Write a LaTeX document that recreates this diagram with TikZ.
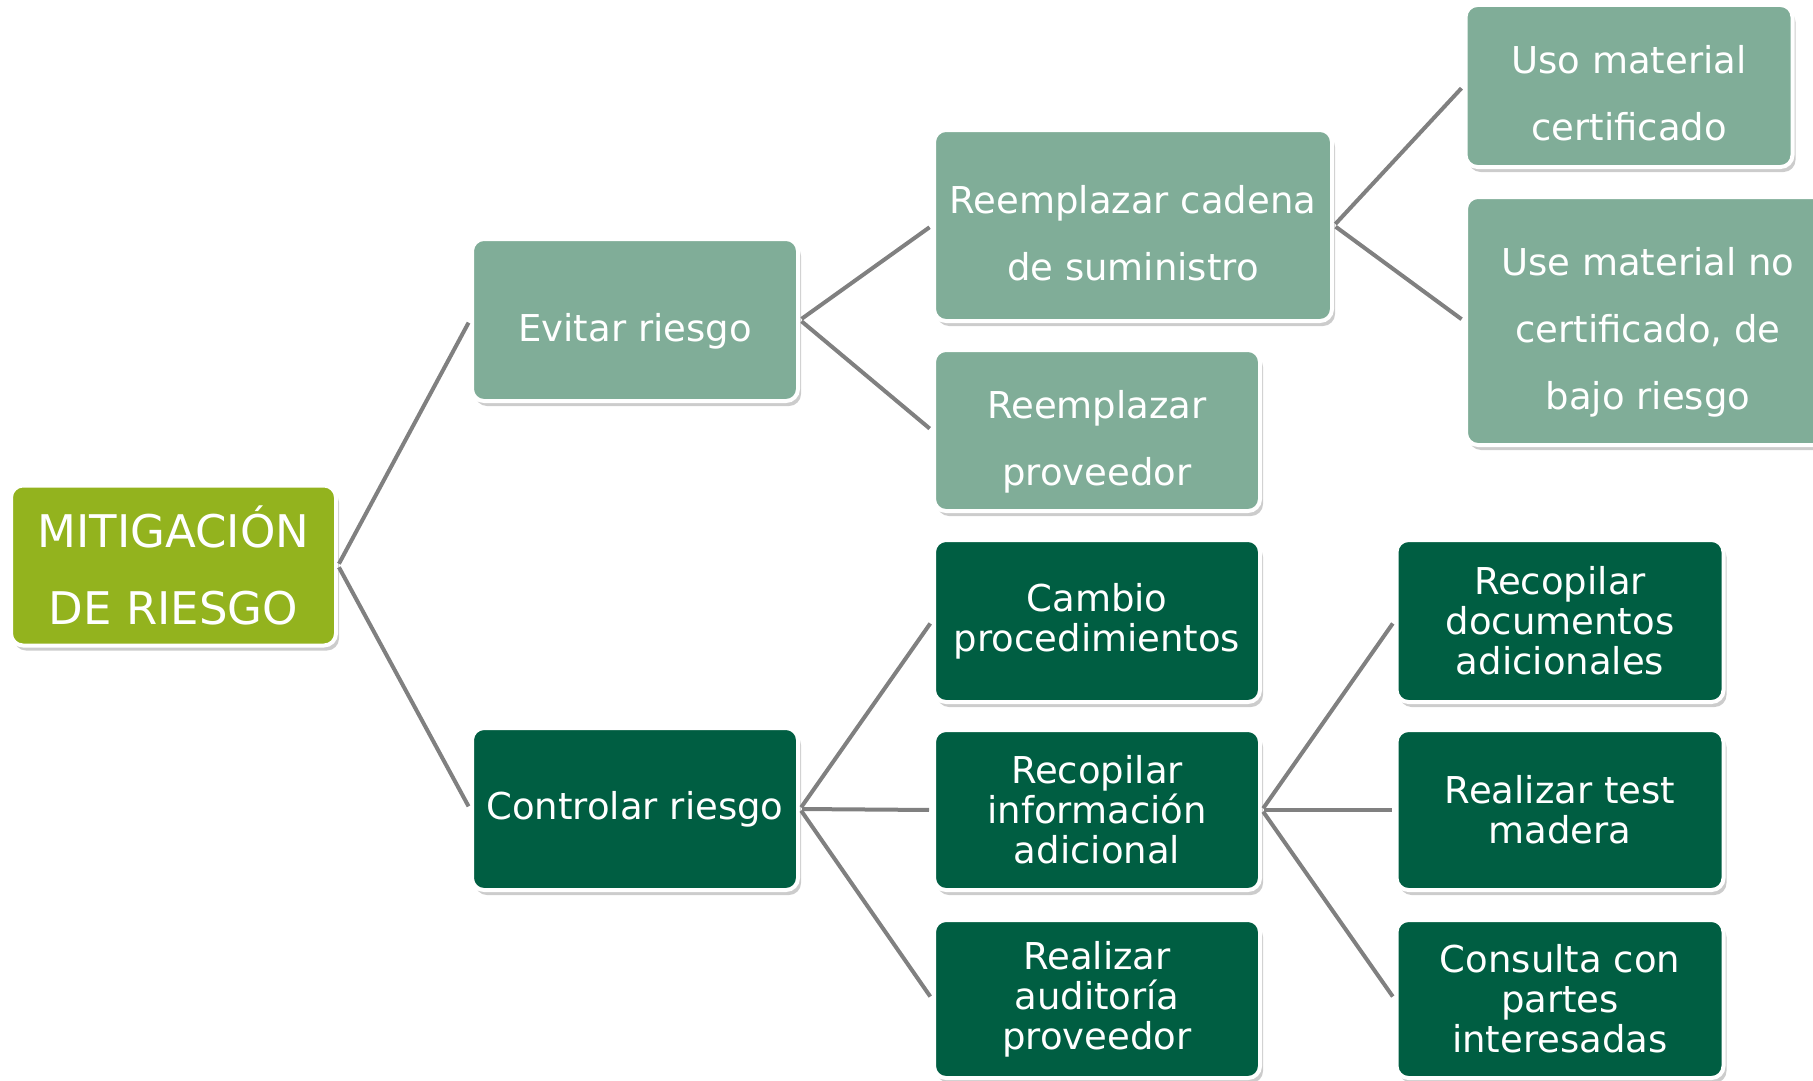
\documentclass[tikz,border=0pt]{standalone}
\usepackage{fontspec}
\setmainfont{DejaVu Sans}
\usetikzlibrary{shadows}
\definecolor{olivegreen}{HTML}{93B31E}
\definecolor{lightteal}{HTML}{80AD98}
\definecolor{darkgreen}{HTML}{005E42}
\definecolor{linegray}{HTML}{808080}
\newcommand{\topgap}{\rule{0pt}{42pt}}
\tikzset{
    box/.style={rectangle, rounded corners=12pt, draw=white, line width=4pt,
        align=center, text=white, inner sep=4pt,
        drop shadow={shadow xshift=3pt, shadow yshift=-5pt, opacity=.4}},
    rootbox/.style={box, fill=olivegreen, font=\fontsize{45}{77}\selectfont},
    avoidbox/.style={box, fill=lightteal, font=\fontsize{37}{67}\selectfont, text depth=0pt},
    controlbox/.style={box, fill=darkgreen, font=\fontsize{37}{40}\selectfont},
    link/.style={draw=linegray, line width=4pt, shorten <=2pt, shorten >=3pt}
}

\begin{document}
\begin{tikzpicture}[x=1pt, y=-1pt]
\useasboundingbox (0,0) rectangle (1813,1081);
% root
\node[rootbox, minimum width=325, minimum height=160] (root) at (173.5,565.5) {MITIGACIÓN\\DE RIESGO};
% evitar riesgo
\node[avoidbox, minimum width=326, minimum height=162] (evitar) at (635,320) {\topgap Evitar riesgo};
\node[avoidbox, minimum width=398, minimum height=191] (cadena) at (1133,225.5) {\topgap Reemplazar cadena\\de suministro};
\node[avoidbox, minimum width=326, minimum height=161] (proveedor) at (1097,430.5) {\topgap Reemplazar\\proveedor};
\node[avoidbox, minimum width=327, minimum height=162] (certificado) at (1629,86) {\topgap Uso material\\certificado};
\node[avoidbox, minimum width=364, minimum height=248] (nocertificado) at (1648,321) {\topgap Use material no\\certificado, de\\bajo riesgo};
% controlar riesgo
\node[controlbox, minimum width=326, minimum height=162] (controlar) at (635,809) {Controlar riesgo};
\node[controlbox, minimum width=326, minimum height=162] (cambio) at (1097,621) {Cambio\\procedimientos};
\node[controlbox, minimum width=326, minimum height=160] (info) at (1097,810) {Recopilar\\información\\adicional};
\node[controlbox, minimum width=326, minimum height=158] (auditoria) at (1097,999) {Realizar\\auditoría\\proveedor};
\node[controlbox, minimum width=327, minimum height=162] (documentos) at (1560,621) {Recopilar\\documentos\\adicionales};
\node[controlbox, minimum width=327, minimum height=160] (test) at (1560,810) {Realizar test\\madera};
\node[controlbox, minimum width=327, minimum height=158] (consulta) at (1560,999) {Consulta con\\partes\\interesadas};
% connectors
\draw[link] (root.east) -- (evitar.west);
\draw[link] (root.east) -- (controlar.west);
\draw[link] (evitar.east) -- (cadena.west);
\draw[link] (evitar.east) -- (proveedor.west);
\draw[link] (cadena.east) -- (certificado.west);
\draw[link] (cadena.east) -- (nocertificado.west);
\draw[link] (controlar.east) -- (cambio.west);
\draw[link] (controlar.east) -- (info.west);
\draw[link] (controlar.east) -- (auditoria.west);
\draw[link] (info.east) -- (documentos.west);
\draw[link] (info.east) -- (test.west);
\draw[link] (info.east) -- (consulta.west);
\end{tikzpicture}
\end{document}
